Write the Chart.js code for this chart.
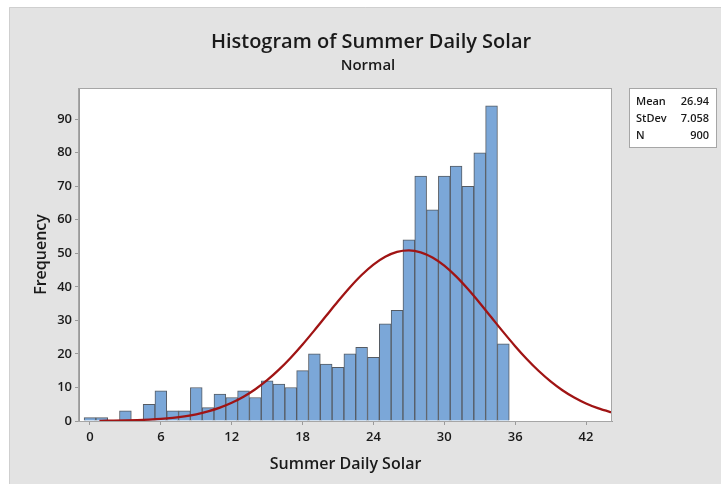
<!DOCTYPE html>
<html>
<head>
<meta charset="utf-8">
<script src="https://cdn.jsdelivr.net/npm/chart.js@4"></script>
<style>
  html, body { margin: 0; padding: 0; background: #ffffff; }
  #wrap { width: 721px; height: 484px; position: relative; }
  canvas { display: block; }
</style>
</head>
<body>
<div id="wrap"><canvas id="c" width="721" height="484"></canvas></div>
<script>
// ---- Data ----
const binCenters = [0,1,2,3,4,5,6,7,8,9,10,11,12,13,14,15,16,17,18,19,20,21,22,23,24,25,26,27,28,29,30,31,32,33,34,35];
const frequencies = [1,1,0,3,0,5,9,3,3,10,4,8,7,9,7,12,11,10,15,20,17,16,20,22,19,29,33,54,73,63,73,76,70,80,94,23];

// fitted normal curve
const curveX = [0.8,1,2,3,4,5,6,7,8,9,10,11,12,13,14,15,16,17,18,19,20,21,22,23,24,25,26,27,28,29,30,31,32,33,34,35,36,37,38,39,40,41,42,43,44,44.2];
const curveY = [0.05,0.06,0.10,0.16,0.26,0.41,0.62,0.94,1.39,2.01,2.86,3.97,5.42,7.24,9.47,12.16,15.30,18.87,22.81,27.02,31.37,35.70,39.82,43.53,46.64,48.98,50.42,50.87,50.30,48.75,46.31,43.11,39.34,35.19,30.84,26.50,22.32,18.42,14.90,11.82,9.18,7.00,5.23,3.82,2.74,2.56];

const xTicks = [0,6,12,18,24,30,36,42];
const yTicks = [0,10,20,30,40,50,60,70,80,90];

const titleText = "Histogram of Summer Daily Solar";
const subtitleText = "Normal";
const xAxisTitle = "Summer Daily Solar";
const yAxisTitle = "Frequency";
const statLabels = ["Mean", "StDev", "N"];
const statValues = ["26.94", "7.058", "900"];

const FONT = "'Open Sans', 'Noto Sans', sans-serif";

const decor = {
  id: 'decor',
  beforeDraw(chart) {
    const ctx = chart.ctx, a = chart.chartArea;
    ctx.save();
    ctx.fillStyle = '#ffffff';
    ctx.fillRect(0, 0, chart.width, chart.height);
    ctx.fillStyle = '#e3e3e3';
    ctx.fillRect(9, 7, chart.width - 9, chart.height - 7);
    ctx.strokeStyle = '#cfcfcf';
    ctx.lineWidth = 1;
    ctx.beginPath();
    ctx.moveTo(9.5, chart.height); ctx.lineTo(9.5, 7.5); ctx.lineTo(chart.width, 7.5);
    ctx.stroke();
    // plot area
    ctx.fillStyle = '#ffffff';
    ctx.fillRect(a.left, a.top, a.right - a.left, a.bottom - a.top);
    ctx.restore();
  },
  afterDraw(chart) {
    const ctx = chart.ctx, a = chart.chartArea;
    ctx.save();
    ctx.strokeStyle = '#a6a6a6';
    ctx.lineWidth = 1;
    ctx.strokeRect(Math.round(a.left) - 0.5, Math.round(a.top) + 0.5, Math.round(a.right - a.left), Math.round(a.bottom - a.top));
    ctx.fillStyle = '#1a1a1a';
    ctx.textAlign = 'center';
    ctx.textBaseline = 'alphabetic';
    ctx.font = '600 20px ' + FONT;
    ctx.fillText(titleText, 371, 48);
    ctx.font = '600 15px ' + FONT;
    ctx.fillText(subtitleText, 368, 70);
    ctx.font = '600 16px ' + FONT;
    ctx.fillText(xAxisTitle, (a.left + a.right) / 2, 469);
    ctx.save();
    ctx.translate(46, (a.top + a.bottom) / 2);
    ctx.rotate(-Math.PI / 2);
    ctx.fillText(yAxisTitle, 0, 0);
    ctx.restore();
    // stats box
    ctx.fillStyle = '#ffffff';
    ctx.fillRect(629, 88, 87, 59);
    ctx.strokeStyle = '#a6a6a6';
    ctx.strokeRect(629.5, 88.5, 87, 59);
    ctx.fillStyle = '#1a1a1a';
    ctx.font = '600 11px ' + FONT;
    for (let i = 0; i < statLabels.length; i++) {
      const y = 105 + i * 17;
      ctx.textAlign = 'left';
      ctx.fillText(statLabels[i], 636, y);
      ctx.textAlign = 'right';
      ctx.fillText(statValues[i], 709, y);
    }
    ctx.restore();
  }
};

new Chart(document.getElementById('c'), {
  type: 'bar',
  data: {
    datasets: [
      {
        type: 'line',
        label: 'Normal',
        data: curveX.map((x, i) => ({ x: x, y: curveY[i] })),
        borderColor: '#a01414',
        borderWidth: 2.3,
        pointRadius: 0,
        cubicInterpolationMode: 'monotone',
        fill: false,
        order: 0
      },
      {
        type: 'bar',
        label: 'Frequency',
        data: binCenters.map((x, i) => ({ x: x, y: frequencies[i] })),
        backgroundColor: '#7ba7d8',
        borderColor: '#555b63',
        borderWidth: 1,
        categoryPercentage: 1.0,
        barPercentage: 1.0,
        order: 1
      }
    ]
  },
  options: {
    responsive: false,
    animation: false,
    devicePixelRatio: 1,
    layout: { padding: { left: 0, top: 88, right: 109, bottom: 0 } },
    plugins: { legend: { display: false }, tooltip: { enabled: false }, title: { display: false } },
    scales: {
      x: {
        type: 'linear',
        offset: false,
        min: -0.93,
        max: 44.2,
        afterBuildTicks: s => { s.ticks = xTicks.map(v => ({ value: v })); },
        afterFit: s => { s.height = 63; },
        grid: { drawOnChartArea: false, drawTicks: true, tickLength: 4, color: '#9a9a9a', offset: false },
        border: { display: true, color: '#9a9a9a', width: 1 },
        ticks: { color: '#1a1a1a', font: { family: FONT, size: 13, weight: '600' }, padding: 4, maxRotation: 0, autoSkip: false }
      },
      y: {
        type: 'linear',
        min: 0,
        max: 99.3,
        afterBuildTicks: s => { s.ticks = yTicks.map(v => ({ value: v })); },
        afterFit: s => { s.width = 79; },
        grid: { drawOnChartArea: false, drawTicks: true, tickLength: 4, color: '#9a9a9a' },
        border: { display: true, color: '#9a9a9a', width: 1 },
        ticks: { color: '#1a1a1a', font: { family: FONT, size: 13, weight: '600' }, padding: 3 }
      }
    }
  },
  plugins: [decor]
});
</script>
</body>
</html>
